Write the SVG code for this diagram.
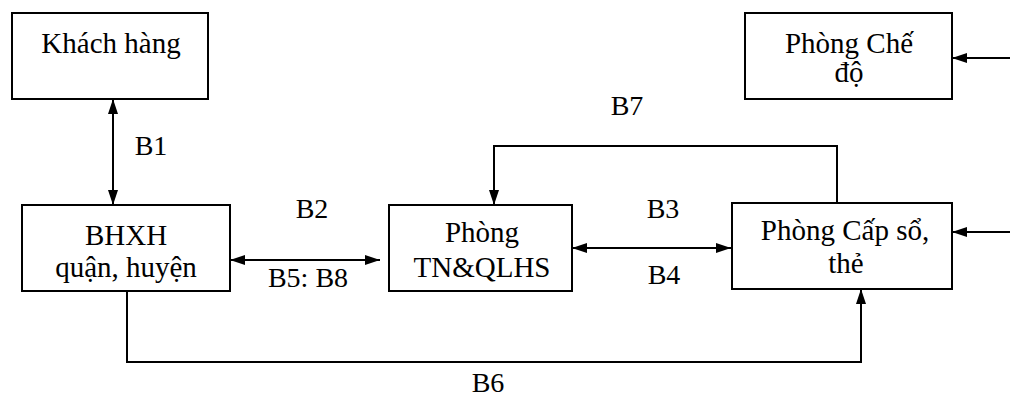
<svg xmlns="http://www.w3.org/2000/svg" width="1010" height="399" viewBox="0 0 1010 399">
<style>
.box{fill:#fff;stroke:#000;stroke-width:2}
.t{font-family:'Liberation Serif','DejaVu Serif',serif;font-size:29px;fill:#000;text-anchor:middle}
.l{font-family:'Liberation Serif','DejaVu Serif',serif;font-size:28px;fill:#000;text-anchor:middle}
.c{fill:none;stroke:#000;stroke-width:2}
</style>
<defs>
<marker id="ah" viewBox="0 0 15 10" refX="15" refY="5" markerWidth="15" markerHeight="10" markerUnits="userSpaceOnUse" orient="auto-start-reverse">
<path d="M0,0 L15,5 L0,10 Z" fill="#000"/>
</marker>
</defs>
<rect width="1010" height="399" fill="#fff"/>
<g id="connectors">
<line class="c" x1="113" y1="99" x2="113" y2="205" marker-start="url(#ah)" marker-end="url(#ah)"/>
<line class="c" x1="230" y1="260" x2="380" y2="260" marker-start="url(#ah)" marker-end="url(#ah)"/>
<line class="c" x1="572" y1="248" x2="731" y2="248" marker-start="url(#ah)" marker-end="url(#ah)"/>
<path class="c" d="M837,211 V146 H494 V205" marker-end="url(#ah)"/>
<path class="c" d="M127,291 V362 H861 V289" marker-end="url(#ah)"/>
<line class="c" x1="1010" y1="58" x2="952" y2="58" marker-end="url(#ah)"/>
<line class="c" x1="1010" y1="232" x2="952" y2="232" marker-end="url(#ah)"/>
<text class="l" x="151" y="155">B1</text>
<text class="l" x="312" y="218">B2</text>
<text class="l" x="308" y="287">B5: B8</text>
<text class="l" x="663" y="218">B3</text>
<text class="l" x="664" y="284">B4</text>
<text class="l" x="627" y="115">B7</text>
<text class="l" x="488" y="392">B6</text>
</g>
<g id="khach-hang">
<rect class="box" x="12" y="13" width="196" height="86"/>
<text class="t" x="111" y="53">Khách hàng</text>
</g>
<g id="phong-che-do">
<rect class="box" x="745" y="13" width="207" height="86"/>
<text class="t" x="849" y="53">Phòng Chế</text>
<text class="t" x="849" y="82">độ</text>
</g>
<g id="bhxh">
<rect class="box" x="22" y="205" width="208" height="86"/>
<text class="t" x="126" y="245">BHXH</text>
<text class="t" x="126" y="277">quận, huyện</text>
</g>
<g id="phong-tn">
<rect class="box" x="389" y="205" width="183" height="86"/>
<text class="t" x="482" y="242">Phòng</text>
<text class="t" x="482" y="277">TN&amp;QLHS</text>
</g>
<g id="phong-cap-so">
<rect class="box" x="732" y="203" width="220" height="86"/>
<text class="t" x="845" y="240">Phòng Cấp sổ,</text>
<text class="t" x="846" y="273">thẻ</text>
</g>
</svg>
